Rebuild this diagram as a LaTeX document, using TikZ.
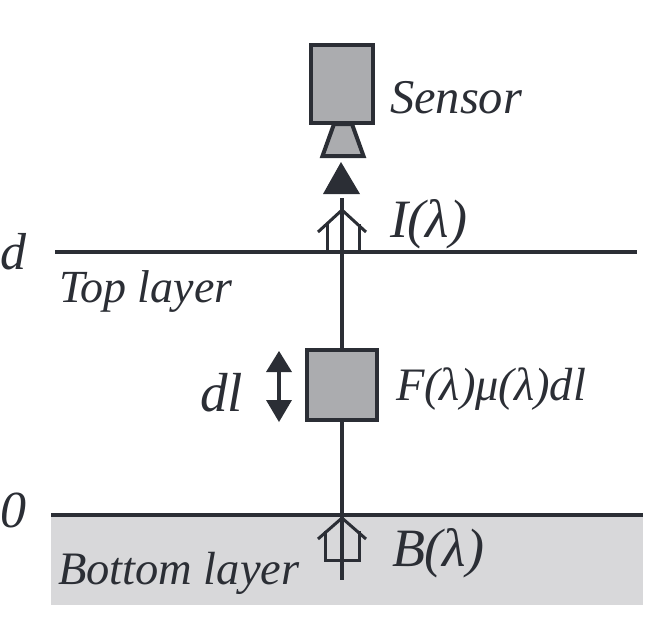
\documentclass[tikz,border=0pt]{standalone}
\usepackage{fontspec}
\setmainfont{Liberation Serif}
\definecolor{ink}{HTML}{2B2E35}
\definecolor{boxgray}{HTML}{ABACAF}
\definecolor{layergray}{HTML}{D8D8DA}
\tikzset{
  lbl/.style={anchor=base west,inner sep=0pt,outer sep=0pt,text=ink,font=\itshape\fontsize{#1}{#1}\selectfont},
  graybox/.style={draw=ink,fill=boxgray,line width=4.4pt,inner sep=0pt,minimum width=#1},
  rail/.style={draw=ink,line width=3.4pt},
  hollow/.style={draw=ink,line width=3pt,line join=miter,line cap=butt}
}
\begin{document}
\begin{tikzpicture}[x=1pt,y=-1pt]
\useasboundingbox (0,0) rectangle (654,630);
\fill[layergray] (51,515) rectangle (643,605);
% layers
\coordinate (topL) at (55,252); \coordinate (topR) at (637,252);
\coordinate (botL) at (51,515); \coordinate (botR) at (643,515);
\draw[rail] (topL) -- (topR);
\draw[rail,line width=4.6pt] (botL) -- (botR);
% sensor
\node[graybox=62pt,minimum height=78pt] (body) at (342,84) {};
\filldraw[draw=ink,fill=boxgray,line width=4pt,line join=miter] (334,124) -- (352,124) -- (363.5,156) -- (322.5,156) -- cycle;
\fill[ink] (341,162) -- (360,194) -- (323,194) -- cycle;
% F box and vertical line
\coordinate (lineTop) at (342,198);
\coordinate (lineEnd) at (342,580);
\node[graybox=70pt,minimum height=70pt] (fbox) at (342,385) {};
\draw[rail] (lineTop) -- (fbox.north);
\draw[rail] (fbox.south) -- (lineEnd);
% I arrow
\draw[hollow] (327,252) -- (327,224);
\draw[hollow] (359,224) -- (359,252);
\draw[hollow] (318,232) -- (342,210) -- (366,232);
% B arrow
\draw[hollow] (318,539) -- (342,518) -- (366,539);
\draw[hollow] (325,531) -- (325,560) -- (359,560) -- (359,531);
% dl arrow
\coordinate (dlTop) at (279,372); \coordinate (dlBot) at (279,400);
\draw[rail] (dlTop) -- (dlBot);
\fill[ink] (279,351) -- (292,372) -- (266,372) -- cycle;
\fill[ink] (279,422) -- (292,400) -- (266,400) -- cycle;
% labels
\node[lbl=48.5] (sensor) at (390,113) {Sensor};
\node[lbl=54] (il) at (390,237) {I(λ)};
\node[lbl=52] (dd) at (0,269) {d};
\node[lbl=46] (toplayer) at (59,302) {Top layer};
\node[lbl=46.5] (fl) at (396,400) {F(λ)μ(λ)dl};
\node[lbl=55] (dl) at (200,411) {dl};
\node[lbl=52] (zero) at (0,527) {0};
\node[lbl=46.5] (botlayer) at (58,584) {Bottom layer};
\node[lbl=54] (bl) at (392,566) {B(λ)};
\end{tikzpicture}
\end{document}
